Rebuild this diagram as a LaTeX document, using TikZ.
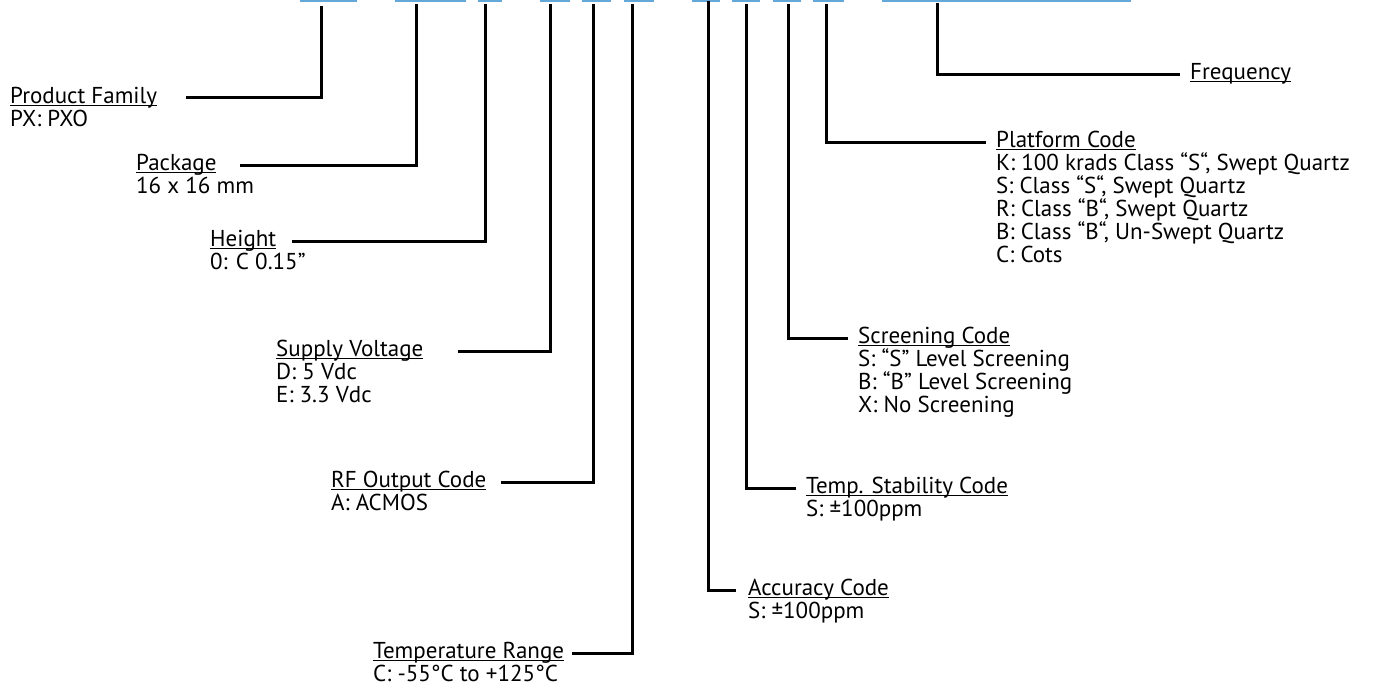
\documentclass[tikz,border=0pt]{standalone}
\usepackage{fontspec}
\setmainfont{PT Sans}
\definecolor{barblue}{RGB}{100,168,218}
\newcommand\ulb[1]{\setbox0\hbox{#1}\rlap{\rule[-2.6pt]{\wd0}{1.1pt}}\box0}
\begin{document}
\begin{tikzpicture}[x=1pt,y=-1pt,
  conn/.style={line width=3pt},
  bar/.style={line width=2pt,draw=barblue},
  lbl/.style={anchor=base west,inner sep=0pt,font=\fontsize{23}{23}\selectfont}]
\useasboundingbox (0,0) rectangle (1376,694);
% blue bars at top
\foreach \a/\b in {300/357,395/466,478/502,540/570,582/611,624/654,692/720,732/760,773/801,813/844,882/1131}
  \draw[bar] (\a,0.8) -- (\b,0.8);
% Product Family
\node[lbl] (pf) at (10,103) {\ulb{Product Family}};
\node[lbl] (pf1) at (10,126) {PX: PXO};
\coordinate (pfs) at (186,97); \coordinate (pft) at (321,6);
\draw[conn] (pfs) -| (pft);
% Package
\node[lbl] (pk) at (136,170) {\ulb{Package}};
\node[lbl] (pk1) at (136,193) {16 x 16 mm};
\coordinate (pks) at (240,165); \coordinate (pkt) at (416,4);
\draw[conn] (pks) -| (pkt);
% Height
\node[lbl] (ht) at (210,246) {\ulb{Height}};
\node[lbl] (ht1) at (210,269) {0: C 0.15”};
\coordinate (hts) at (292,241); \coordinate (htt) at (485,4);
\draw[conn] (hts) -| (htt);
% Supply Voltage
\node[lbl] (sv) at (276,356) {\ulb{Supply Voltage}};
\node[lbl] (sv1) at (276,379) {D: 5 Vdc};
\node[lbl] (sv2) at (276,402) {E: 3.3 Vdc};
\coordinate (svs) at (458,351); \coordinate (svt) at (550,4);
\draw[conn] (svs) -| (svt);
% RF Output Code
\node[lbl] (rf) at (331,487) {\ulb{RF Output Code}};
\node[lbl] (rf1) at (331,510) {A: ACMOS};
\coordinate (rfs) at (501,482); \coordinate (rft) at (593,4);
\draw[conn] (rfs) -| (rft);
% Temperature Range
\node[lbl] (tr) at (373,658) {\ulb{Temperature Range}};
\node[lbl] (tr1) at (373,681) {C: -55°C to +125°C};
\coordinate (trs) at (572,653); \coordinate (trt) at (632,4);
\draw[conn] (trs) -| (trt);
% Accuracy Code
\node[lbl] (ac) at (748,595) {\ulb{Accuracy Code}};
\node[lbl] (ac1) at (748,618) {S: ±100ppm};
\coordinate (acs) at (736,590); \coordinate (act) at (708,1);
\draw[conn] (acs) -| (act);
% Temp. Stability Code
\node[lbl] (ts) at (806,493) {\ulb{Temp. Stability Code}};
\node[lbl] (ts1) at (806,516) {S: ±100ppm};
\coordinate (tss) at (796,488); \coordinate (tst) at (746,4);
\draw[conn] (tss) -| (tst);
% Screening Code
\node[lbl] (sc) at (858,343) {\ulb{Screening Code}};
\node[lbl] (sc1) at (858,366) {S: “S” Level Screening};
\node[lbl] (sc2) at (858,389) {B: “B” Level Screening};
\node[lbl] (sc3) at (858,412) {X: No Screening};
\coordinate (scs) at (848,338); \coordinate (sct) at (788,4);
\draw[conn] (scs) -| (sct);
% Platform Code
\node[lbl] (pl) at (996,147) {\ulb{Platform Code}};
\node[lbl] (pl1) at (996,170) {K: 100 krads Class “S“, Swept Quartz};
\node[lbl] (pl2) at (996,193) {S: Class “S“, Swept Quartz};
\node[lbl] (pl3) at (996,216) {R: Class “B“, Swept Quartz};
\node[lbl] (pl4) at (996,239) {B: Class “B“, Un-Swept Quartz};
\node[lbl] (pl5) at (996,262) {C: Cots};
\coordinate (pls) at (986,142); \coordinate (plt) at (826,4);
\draw[conn] (pls) -| (plt);
% Frequency
\node[lbl] (fr) at (1190,79) {\ulb{Frequency}};
\coordinate (frs) at (1180,74); \coordinate (frt) at (937,3);
\draw[conn] (frs) -| (frt);
\end{tikzpicture}
\end{document}
